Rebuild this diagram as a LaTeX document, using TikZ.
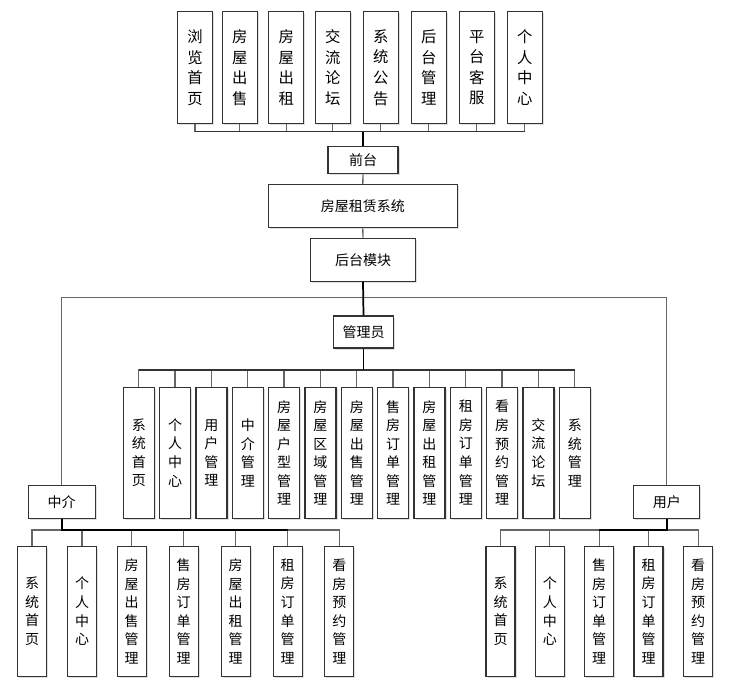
\documentclass[tikz,border=0pt]{standalone}
\usepackage{fontspec}
\setmainfont{Noto Sans CJK SC}
\usetikzlibrary{shadows}

\tikzset{
  box/.style={draw=black!80, line width=0.9pt, fill=white, inner sep=0pt, align=center,
    drop shadow={shadow xshift=1.2pt, shadow yshift=-1.2pt, fill=black!25, opacity=0.5}},
  hbox/.style={box, font=\fontsize{10.5pt}{13pt}\selectfont},
  topbox/.style={box, minimum width=35*0.75pt, minimum height=112*0.75pt,
    font=\fontsize{11.5pt}{15.4pt}\selectfont},
  midbox/.style={box, minimum width=31*0.75pt, minimum height=131*0.75pt,
    font=\fontsize{10.5pt}{13.9pt}\selectfont},
  lowbox/.style={box, minimum width=29*0.75pt, minimum height=130*0.75pt,
    font=\fontsize{10.5pt}{13.9pt}\selectfont},
  link/.style={draw=black!60, line width=1pt},
  bus/.style={draw=black!80, line width=1pt},
  trunk/.style={draw=black, line width=1.3pt},
}

\begin{document}
\begin{tikzpicture}[x=0.75pt,y=-0.75pt]
\useasboundingbox (0,0) rectangle (742,689);

% front end
\foreach \cx/\txt [count=\i] in {195/{浏\\览\\首\\页}, 239.8/{房\\屋\\出\\售},
  286.2/{房\\屋\\出\\租}, 332.8/{交\\流\\论\\坛}, 380.8/{系\\统\\公\\告},
  428.8/{后\\台\\管\\理}, 476.8/{平\\台\\客\\服}, 524.8/{个\\人\\中\\心}}
  \node[topbox] (top\i) at (\cx,67.5) {\txt};

\node[hbox, minimum width=70*0.75pt, minimum height=27*0.75pt] (qiantai) at (363,160.3) {前台};
\node[hbox, minimum width=189*0.75pt, minimum height=43*0.75pt] (xitong) at (362.8,206.2) {房屋租赁系统};
\node[hbox, minimum width=105*0.75pt, minimum height=43*0.75pt] (houtai) at (363,259.7) {后台模块};
\node[hbox, minimum width=60*0.75pt, minimum height=32*0.75pt] (guanli) at (363.5,332) {管理员};
\node[hbox, minimum width=67*0.75pt, minimum height=33*0.75pt] (zhongjie) at (61.7,501.7) {中介};
\node[hbox, minimum width=66*0.75pt, minimum height=33*0.75pt] (yonghu) at (666.8,501.7) {用户};

\coordinate (topbus) at (363,131.7);
\foreach \i in {1,...,8}
  \draw[link] (top\i.south) |- (topbus);
\draw[bus] (top1.south |- topbus) -- (top8.south |- topbus);
\draw[trunk] (qiantai.north) -- (topbus);
\draw[link] (qiantai.south) -- (xitong.north);
\draw[link] (xitong.south) -- (houtai.north);

% split to the three roles
\coordinate (split) at (363,297.7);
\draw[link] (split) -| (zhongjie.north);
\draw[link] (split) -| (yonghu.north);
\draw[trunk] (houtai.south) -- (guanli.north);

% administrator
\foreach \txt [count=\i] in {{系\\统\\首\\页}, {个\\人\\中\\心}, {用\\户\\管\\理},
  {中\\介\\管\\理}, {房\\屋\\户\\型\\管\\理}, {房\\屋\\区\\域\\管\\理},
  {房\\屋\\出\\售\\管\\理}, {售\\房\\订\\单\\管\\理}, {房\\屋\\出\\租\\管\\理},
  {租\\房\\订\\单\\管\\理}, {看\\房\\预\\约\\管\\理}, {交\\流\\论\\坛}, {系\\统\\管\\理}}
  \node[midbox] (adm\i) at ({138.8+36.33*(\i-1)},452.8) {\txt};

\coordinate (admbus) at (363.5,370);
\foreach \i in {1,...,13}
  \draw[link] (adm\i.north) |- (admbus);
\draw[bus] (adm1.north |- admbus) -- (adm13.north |- admbus);
\draw[trunk] (guanli.south) -- (admbus);

% agent
\foreach \cx/\txt [count=\i] in {32/{系\\统\\首\\页}, 82/{个\\人\\中\\心},
  131.7/{房\\屋\\出\\售\\管\\理}, 183.7/{售\\房\\订\\单\\管\\理},
  235.7/{房\\屋\\出\\租\\管\\理}, 287.7/{租\\房\\订\\单\\管\\理},
  339.3/{看\\房\\预\\约\\管\\理}}
  \node[lowbox] (agt\i) at (\cx,611.3) {\txt};

\coordinate (agtbus) at (61.7,530);
\foreach \i in {1,...,7}
  \draw[link] (agt\i.north) |- (agtbus);
\draw[trunk] (zhongjie.south) |- (agt6.north |- agtbus);

% user
\foreach \cx/\txt [count=\i] in {500.5/{系\\统\\首\\页}, 549.8/{个\\人\\中\\心},
  599.2/{售\\房\\订\\单\\管\\理}, 648.5/{租\\房\\订\\单\\管\\理},
  698.2/{看\\房\\预\\约\\管\\理}}
  \node[lowbox] (usr\i) at (\cx,611.3) {\txt};

\coordinate (usrbus) at (666.8,530);
\foreach \i in {1,...,5}
  \draw[link] (usr\i.north) |- (usrbus);
\draw[trunk] (yonghu.south) |- (usr3.north |- usrbus);
\end{tikzpicture}
\end{document}
